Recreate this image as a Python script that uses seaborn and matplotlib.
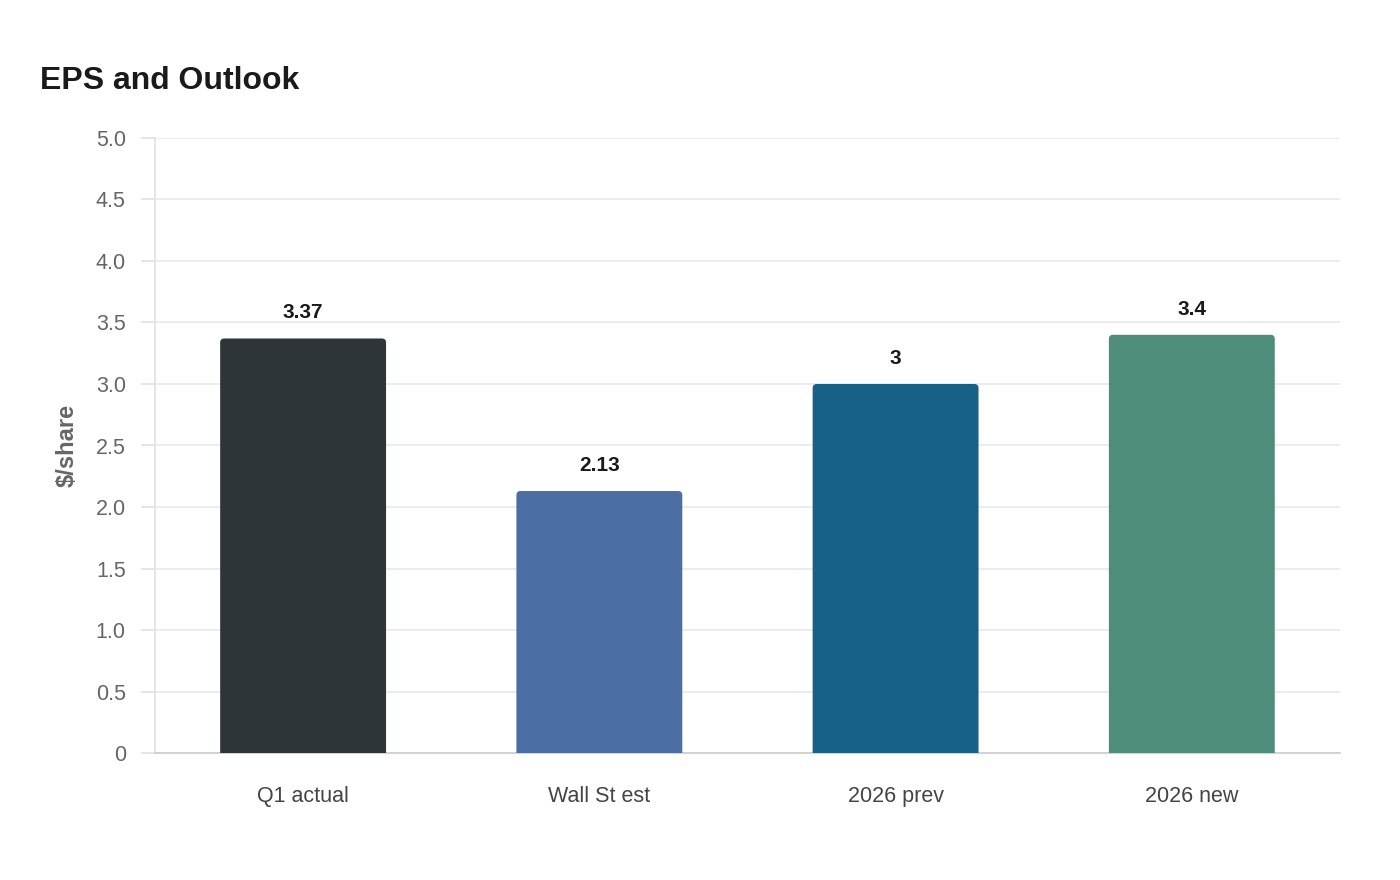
import numpy as np
import pandas as pd
import matplotlib
matplotlib.use("Agg")
import matplotlib.pyplot as plt
import seaborn as sns
from matplotlib.patches import FancyBboxPatch
from matplotlib.ticker import FuncFormatter

# data
categories = ["Q1 actual", "Wall St est", "2026 prev", "2026 new"]
eps_values = [3.37, 2.13, 3.0, 3.4]
value_labels = ["3.37", "2.13", "3", "3.4"]
bar_colors = ["#2E3538", "#4B6FA4", "#186186", "#4E8D7B"]
y_ticks = [0, 0.5, 1.0, 1.5, 2.0, 2.5, 3.0, 3.5, 4.0, 4.5, 5.0]

sns.set_theme(style="white")
plt.rcParams['font.family'] = ['Liberation Sans', 'DejaVu Sans']

df = pd.DataFrame({"cat": categories, "eps": eps_values})

fig = plt.figure(figsize=(14, 8.8), dpi=100)
ax = fig.add_axes([0.1107, 0.1443, 0.8464, 0.6989])

sns.barplot(data=df, x="cat", y="eps", hue="cat", palette=bar_colors,
            width=0.56, legend=False, ax=ax, zorder=3, saturation=1)

ax.set_ylim(0, 5)
ax.set_xlim(-0.5, 3.5)

# rounded tops on the bars
for p in list(ax.patches):
    x0, w, h = p.get_x(), p.get_width(), p.get_height()
    col = p.get_facecolor()
    p.remove()
    rb = FancyBboxPatch((x0, -0.06), w, h + 0.06,
                        boxstyle="round,pad=0,rounding_size=0.014",
                        mutation_aspect=2.41, facecolor=col, edgecolor="none",
                        zorder=3, clip_on=True)
    ax.add_patch(rb)

# value labels
for i, (v, lab) in enumerate(zip(eps_values, value_labels)):
    ax.text(i, v + 0.13, lab, ha="center", va="bottom", fontsize=15,
            fontweight="bold", color="#1a1a1a")

ax.set_yticks(y_ticks)
ax.yaxis.set_major_formatter(FuncFormatter(lambda v, _: "0" if v == 0 else f"{v:.1f}"))
ax.grid(axis="y", color="#e9e9e9", linewidth=1.2, zorder=0)
ax.grid(axis="x", visible=False)

for s in ["top", "right"]:
    ax.spines[s].set_visible(False)
ax.spines["left"].set_color("#e2e2e2")
ax.spines["bottom"].set_color("#cccccc")
ax.spines["bottom"].set_linewidth(1.2)

ax.tick_params(axis="y", length=10, color="#e2e2e2", labelsize=15.5,
               labelcolor="#666666", pad=11, left=True)
ax.tick_params(axis="x", length=0, labelsize=15.5, labelcolor="#444444", pad=24)

ax.set_xlabel("")
ax.set_ylabel("$/share", fontsize=17, fontweight="bold", color="#666666", labelpad=12)

fig.text(40 / 1400, 1 - 81 / 880, "EPS and Outlook", fontsize=23, fontweight="bold",
         color="#1a1a1a", ha="left", va="center")

plt.savefig("out.png", dpi=100)
